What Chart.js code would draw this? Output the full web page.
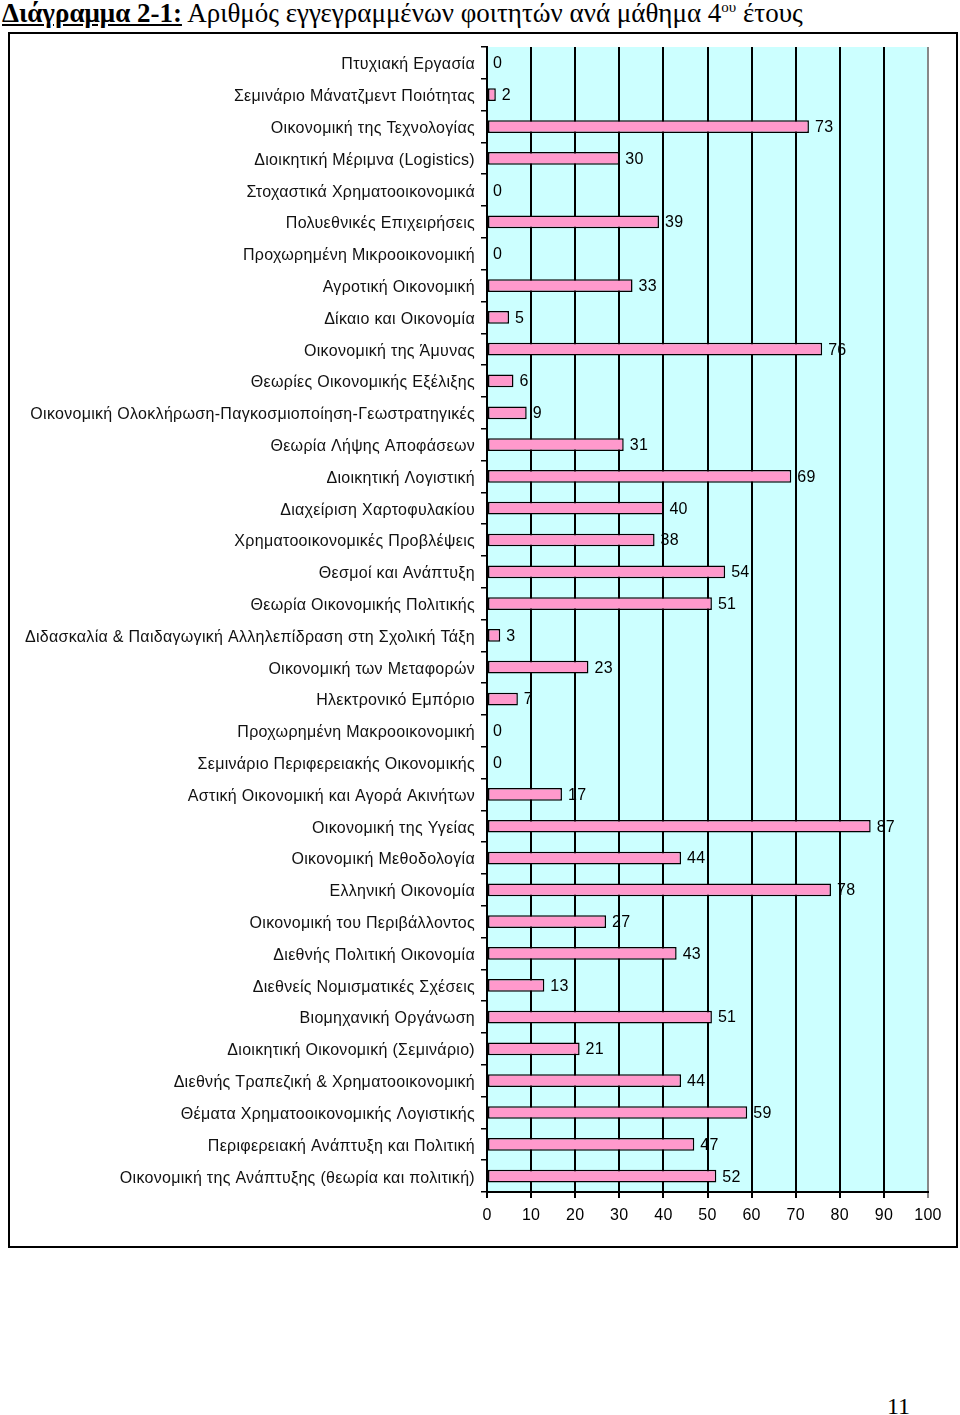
<!DOCTYPE html>
<html>
<head>
<meta charset="utf-8">
<script src="https://cdn.jsdelivr.net/npm/chart.js@4/dist/chart.umd.min.js"></script>
<style>
  body { margin: 0; background: #fff; width: 960px; height: 1415px; position: relative; overflow: hidden; }
  #title { position: absolute; left: 2px; top: -2px; font-family: "Liberation Serif", serif; font-size: 27px; white-space: nowrap; color: #000; }
  #title b { text-decoration: underline; }
  #frame { position: absolute; left: 8px; top: 32px; width: 946px; height: 1212px; border: 2px solid #000; }
  #chartBox { position: absolute; left: 0; top: 0; width: 960px; height: 1260px; }
  #page { position: absolute; left: 887px; top: 1393px; font-family: "Liberation Serif", serif; font-size: 24px; color: #000; }
</style>
</head>
<body>
<div id="title"><b>Διάγραμμα 2-1:</b> Αριθμός εγγεγραμμένων φοιτητών ανά μάθημα 4<sup style="font-size:15px">ου</sup> έτους</div>
<div id="frame"></div>
<div id="chartBox"><canvas id="coursesChart"></canvas></div>
<div id="page">11</div>
<script>
const courses = [
  "Πτυχιακή Εργασία",
  "Σεμινάριο Μάνατζμεντ Ποιότητας",
  "Οικονομική της Τεχνολογίας",
  "Διοικητική Μέριμνα (Logistics)",
  "Στοχαστικά Χρηματοοικονομικά",
  "Πολυεθνικές Επιχειρήσεις",
  "Προχωρημένη Μικροοικονομική",
  "Αγροτική Οικονομική",
  "Δίκαιο και Οικονομία",
  "Οικονομική της Άμυνας",
  "Θεωρίες Οικονομικής Εξέλιξης",
  "Οικονομική Ολοκλήρωση-Παγκοσμιοποίηση-Γεωστρατηγικές",
  "Θεωρία Λήψης Αποφάσεων",
  "Διοικητική Λογιστική",
  "Διαχείριση Χαρτοφυλακίου",
  "Χρηματοοικονομικές Προβλέψεις",
  "Θεσμοί και Ανάπτυξη",
  "Θεωρία Οικονομικής Πολιτικής",
  "Διδασκαλία & Παιδαγωγική Αλληλεπίδραση στη Σχολική Τάξη",
  "Οικονομική των Μεταφορών",
  "Ηλεκτρονικό Εμπόριο",
  "Προχωρημένη Μακροοικονομική",
  "Σεμινάριο Περιφερειακής Οικονομικής",
  "Αστική Οικονομική και Αγορά Ακινήτων",
  "Οικονομική της Υγείας",
  "Οικονομική Μεθοδολογία",
  "Ελληνική Οικονομία",
  "Οικονομική του Περιβάλλοντος",
  "Διεθνής Πολιτική Οικονομία",
  "Διεθνείς Νομισματικές Σχέσεις",
  "Βιομηχανική Οργάνωση",
  "Διοικητική Οικονομική (Σεμινάριο)",
  "Διεθνής Τραπεζική & Χρηματοοικονομική",
  "Θέματα Χρηματοοικονομικής Λογιστικής",
  "Περιφερειακή Ανάπτυξη και Πολιτική",
  "Οικονομική της Ανάπτυξης (θεωρία και πολιτική)"
];
const students = [
  0, 2, 73, 30, 0, 39, 0, 33, 5, 76,
  6, 9, 31, 69, 40, 38, 54, 51, 3, 23,
  7, 0, 0, 17, 87, 44, 78, 27, 43, 13,
  51, 21, 44, 59, 47, 52
];
const xTicks = [0, 10, 20, 30, 40, 50, 60, 70, 80, 90, 100];

// cyan plot background, slightly wider letters like the original
const plotBg = {
  id: "plotBg",
  beforeDraw(chart) {
    const { ctx, chartArea: a } = chart;
    ctx.letterSpacing = "0.3px";
    ctx.save();
    ctx.fillStyle = "#CCFFFF";
    ctx.fillRect(a.left, a.top, a.right - a.left, a.bottom - a.top);
    ctx.restore();
  }
};

// value labels at bar ends
const barValues = {
  id: "barValues",
  afterDatasetsDraw(chart) {
    const { ctx } = chart;
    const meta = chart.getDatasetMeta(0);
    ctx.save();
    ctx.font = "16px 'Liberation Sans', Arial, sans-serif";
    ctx.fillStyle = "#000";
    ctx.textBaseline = "middle";
    ctx.textAlign = "left";
    meta.data.forEach((bar, i) => {
      ctx.fillText(String(students[i]), bar.x + 6, bar.y + 1);
    });
    ctx.restore();
  }
};

const chart = new Chart(document.getElementById("coursesChart"), {
  type: "bar",
  data: {
    labels: courses,
    datasets: [{
      data: students,
      backgroundColor: "#FF99CC",
      borderColor: "#000",
      borderWidth: 1.5,
      borderSkipped: false,
      barPercentage: 0.4,
      categoryPercentage: 1.0
    }]
  },
  options: {
    indexAxis: "y",
    responsive: true,
    maintainAspectRatio: false,
    animation: false,
    layout: { padding: { left: 10, right: 32, top: 47, bottom: 28 } },
    plugins: {
      legend: { display: false },
      tooltip: { enabled: false }
    },
    scales: {
      x: {
        min: 0,
        max: 100,
        afterBuildTicks(axis) { axis.ticks = xTicks.map(v => ({ value: v })); },
        afterFit(axis) { axis.height = 40; },
        grid: {
          color: ctx => (ctx.tick && ctx.tick.value === 100 ? "#888" : "#000"),
          lineWidth: 2,
          tickLength: 6,
          drawTicks: true
        },
        border: { color: "#000", width: 2 },
        ticks: {
          color: "#000",
          padding: 8,
          font: { family: "'Liberation Sans', Arial, sans-serif", size: 16 }
        }
      },
      y: {
        afterFit(axis) { axis.width = 477; },
        grid: {
          drawOnChartArea: false,
          color: "#000",
          lineWidth: 1.5,
          tickLength: 6,
          offset: true
        },
        border: { color: "#000", width: 2 },
        ticks: {
          color: "#111",
          padding: 6,
          autoSkip: false,
          labelOffset: 2,
          font: { family: "'Liberation Sans', Arial, sans-serif", size: 16 }
        }
      }
    }
  },
  plugins: [plotBg, barValues]
});
</script>
</body>
</html>
